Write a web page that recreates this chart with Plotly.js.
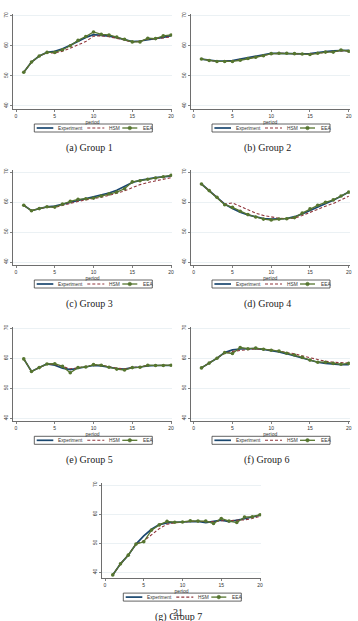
<!DOCTYPE html>
<html>
<head>
<meta charset="utf-8">
<script src="https://cdn.plot.ly/plotly-3.0.1.min.js"></script>
<style>
  html, body { margin: 0; padding: 0; background: #ffffff; }
  #chart { width: 358px; height: 621px; }
</style>
</head>
<body>
<div id="chart"></div>
<script>
// Average price by period for each experimental group, with the two model fits.
const period = [1, 2, 3, 4, 5, 6, 7, 8, 9, 10, 11, 12, 13, 14, 15, 16, 17, 18, 19, 20];

const g1Experiment = [51.2, 54.6, 56.6, 57.8, 58.2, 59.0, 60.2, 61.5, 62.8, 63.7, 63.5, 63.2, 62.7, 62.0, 61.4, 61.6, 62.0, 62.3, 62.8, 63.4];
const g1HSM        = [51.2, 54.6, 56.6, 57.7, 57.6, 58.2, 59.2, 60.3, 61.4, 63.2, 63.3, 63.0, 62.5, 61.9, 61.2, 61.5, 62.2, 62.3, 62.6, 63.0];
const g1EEA        = [51.2, 54.6, 56.6, 57.8, 57.8, 58.7, 60.0, 61.8, 63.1, 64.6, 63.8, 63.6, 62.9, 62.2, 61.3, 61.3, 62.5, 62.4, 63.3, 63.6];

const g2Experiment = [55.6, 55.2, 54.9, 54.9, 55.1, 55.6, 56.1, 56.6, 57.1, 57.5, 57.5, 57.4, 57.4, 57.3, 57.4, 57.8, 58.1, 58.3, 58.5, 58.5];
const g2HSM        = [55.6, 55.1, 54.8, 54.8, 54.9, 55.3, 55.8, 56.3, 56.8, 57.3, 57.5, 57.5, 57.4, 57.2, 57.2, 57.5, 57.8, 58.0, 58.3, 58.3];
const g2EEA        = [55.6, 55.1, 54.8, 54.8, 54.8, 55.2, 55.8, 56.2, 56.7, 57.4, 57.5, 57.5, 57.4, 57.3, 57.1, 57.5, 57.9, 57.9, 58.6, 58.2];

const g3Experiment = [58.9, 57.1, 57.8, 58.4, 58.6, 59.2, 59.8, 60.4, 61.0, 61.6, 62.2, 63.0, 63.9, 65.2, 66.5, 67.2, 67.7, 68.1, 68.4, 68.7];
const g3HSM        = [58.9, 57.1, 57.8, 58.3, 58.2, 58.9, 59.6, 60.2, 60.7, 61.1, 61.6, 62.2, 62.9, 63.7, 64.8, 65.8, 66.5, 67.0, 67.5, 68.1];
const g3EEA        = [58.9, 57.1, 57.8, 58.4, 58.3, 59.3, 60.2, 60.9, 61.1, 61.3, 62.0, 62.7, 63.3, 64.4, 66.7, 67.1, 67.6, 68.0, 68.4, 68.9];

const g4Experiment = [66.0, 63.8, 61.6, 59.3, 57.8, 56.6, 55.7, 55.0, 54.5, 54.3, 54.3, 54.5, 55.1, 56.0, 57.2, 58.3, 59.4, 60.6, 61.9, 63.3];
const g4HSM        = [66.0, 63.8, 61.6, 59.3, 59.7, 58.6, 57.3, 56.3, 55.5, 55.0, 54.6, 54.4, 54.6, 55.5, 56.6, 57.6, 58.6, 59.5, 60.6, 61.9];
const g4EEA        = [66.0, 63.8, 61.6, 59.1, 58.2, 56.9, 55.8, 55.0, 54.3, 54.0, 54.3, 54.4, 54.8, 56.3, 57.7, 58.9, 59.9, 60.7, 62.0, 63.3];

const g5Experiment = [59.8, 55.6, 56.9, 58.1, 57.7, 56.7, 56.2, 56.7, 57.2, 57.6, 57.5, 57.0, 56.6, 56.4, 56.9, 57.1, 57.5, 57.6, 57.6, 57.6];
const g5HSM        = [59.8, 55.6, 56.9, 58.1, 58.0, 57.2, 56.5, 56.8, 57.3, 57.8, 57.7, 57.2, 56.7, 56.5, 56.9, 57.1, 57.6, 57.6, 57.6, 57.7];
const g5EEA        = [59.8, 55.6, 56.9, 58.1, 58.2, 57.3, 55.2, 56.9, 57.1, 57.9, 57.7, 57.0, 56.4, 56.1, 56.9, 57.0, 57.7, 57.6, 57.6, 57.7];

const g6Experiment = [56.8, 58.4, 60.0, 61.9, 62.8, 63.1, 63.2, 63.2, 63.0, 62.6, 62.1, 61.5, 60.8, 60.0, 59.3, 58.7, 58.3, 58.0, 57.9, 57.9];
const g6HSM        = [56.8, 58.4, 60.0, 61.7, 62.3, 62.7, 62.9, 63.1, 63.0, 62.8, 62.4, 62.0, 61.5, 60.8, 60.2, 59.5, 59.0, 58.7, 58.5, 58.4];
const g6EEA        = [56.8, 58.4, 60.0, 61.9, 61.6, 63.6, 63.2, 63.4, 63.0, 62.7, 62.4, 61.7, 61.1, 60.3, 59.4, 58.7, 58.7, 58.3, 58.0, 58.3];

const g7Experiment = [39.1, 42.9, 45.9, 49.7, 52.5, 54.8, 56.4, 57.0, 57.2, 57.3, 57.5, 57.5, 57.1, 57.5, 57.9, 57.4, 57.8, 58.4, 59.0, 59.6];
const g7HSM        = [39.1, 42.9, 45.9, 49.7, 50.8, 52.9, 55.0, 56.5, 57.0, 57.2, 57.5, 57.5, 57.5, 57.4, 57.7, 57.8, 57.7, 58.0, 58.5, 59.2];
const g7EEA        = [39.1, 42.9, 45.9, 49.7, 50.5, 54.5, 56.3, 57.5, 57.2, 57.3, 57.7, 57.6, 57.6, 56.8, 58.5, 57.6, 57.1, 59.0, 59.1, 59.8];

const seriesNames = ['Experiment', 'HSM', 'EEA'];
const captions = ['(a) Group 1', '(b) Group 2', '(c) Group 3', '(d) Group 4', '(e) Group 5', '(f) Group 6', '(g) Group 7'];
const xTicks = [0, 5, 10, 15, 20];
const yTicks = [40, 50, 60, 70];
const xTitle = 'period';
const pageNumber = '31';

// Page geometry (pixels) for each panel
const W = 358, H = 621;
const panels = [
  { data: [g1Experiment, g1HSM, g1EEA], l: 12.9,  r: 172.2, t: 13.9,  b: 109.0, ymin: 39, capX: 89 },
  { data: [g2Experiment, g2HSM, g2EEA], l: 190.6, r: 349.9, t: 13.9,  b: 109.0, ymin: 39, capX: 267 },
  { data: [g3Experiment, g3HSM, g3EEA], l: 12.9,  r: 172.2, t: 170.2, b: 265.0, ymin: 39, capX: 89 },
  { data: [g4Experiment, g4HSM, g4EEA], l: 190.6, r: 349.9, t: 170.2, b: 265.0, ymin: 39, capX: 267 },
  { data: [g5Experiment, g5HSM, g5EEA], l: 12.9,  r: 172.2, t: 326.5, b: 421.3, ymin: 39, capX: 89 },
  { data: [g6Experiment, g6HSM, g6EEA], l: 190.6, r: 349.9, t: 326.5, b: 421.3, ymin: 39, capX: 267 },
  { data: [g7Experiment, g7HSM, g7EEA], l: 101.9, r: 261.2, t: 483.3, b: 578.1, ymin: 38, capX: 178 }
];

const colors = ['#1a476f', '#90353b', '#55752f'];
const axisColor = '#4a4a4a';
const tickFont = { family: 'Liberation Sans, Arial, sans-serif', size: 5, color: '#333333' };
const serif = 'Liberation Serif, DejaVu Serif, serif';

const px = x => x / W;
const py = y => 1 - y / H;

const traces = [];
const layout = {
  width: W, height: H,
  margin: { l: 0, r: 0, t: 0, b: 0 },
  paper_bgcolor: '#ffffff',
  plot_bgcolor: '#ffffff',
  showlegend: false,
  shapes: [],
  annotations: []
};

panels.forEach((p, i) => {
  const sfx = i === 0 ? '' : String(i + 1);
  const xa = 'x' + sfx, ya = 'y' + sfx;

  // Experiment, HSM, EEA
  traces.push({
    x: period, y: p.data[0], xaxis: xa, yaxis: ya, name: seriesNames[0],
    type: 'scatter', mode: 'lines',
    line: { color: colors[0], width: 1.7 }
  });
  traces.push({
    x: period, y: p.data[1], xaxis: xa, yaxis: ya, name: seriesNames[1],
    type: 'scatter', mode: 'lines',
    line: { color: colors[1], width: 1.1, dash: '3px,2px' }
  });
  traces.push({
    x: period, y: p.data[2], xaxis: xa, yaxis: ya, name: seriesNames[2],
    type: 'scatter', mode: 'lines+markers',
    line: { color: colors[2], width: 1.3 },
    marker: { color: colors[2], size: 3.6, symbol: 'circle' }
  });

  layout['xaxis' + sfx] = {
    domain: [px(p.l), px(p.r)],
    anchor: ya,
    range: [-0.4, 20.15],
    tickvals: xTicks,
    ticktext: xTicks.map(String),
    ticks: 'outside', ticklen: 2, tickwidth: 0.7, tickcolor: axisColor,
    showline: true, linecolor: axisColor, linewidth: 0.8,
    showgrid: false, zeroline: false,
    tickfont: tickFont,
    title: { text: xTitle, font: tickFont, standoff: 0 },
    fixedrange: true
  };
  layout['yaxis' + sfx] = {
    domain: [py(p.b), py(p.t)],
    anchor: xa,
    range: [p.ymin, 70.6],
    tickvals: yTicks,
    ticktext: yTicks.map(String),
    tickangle: -90,
    ticks: 'outside', ticklen: 2, tickwidth: 0.7, tickcolor: axisColor,
    showline: true, linecolor: axisColor, linewidth: 0.8,
    showgrid: true, gridcolor: '#e6edf1', gridwidth: 0.8,
    zeroline: false,
    tickfont: tickFont,
    fixedrange: true
  };

  // Legend box below the panel
  const lx = p.l + 21.4, ly = p.b + 15, lw = 118, lh = 8;
  const midY = py(ly + lh / 2);
  layout.shapes.push({
    type: 'rect', xref: 'paper', yref: 'paper',
    x0: px(lx), x1: px(lx + lw), y0: py(ly + lh), y1: py(ly),
    line: { color: '#3c3c3c', width: 0.8 }, fillcolor: '#ffffff', layer: 'above'
  });
  const keys = [
    { x0: 2.4, x1: 19, tx: 22, dash: 'solid', w: 1.7 },
    { x0: 53, x1: 70, tx: 73, dash: '3px,2px', w: 1.1 },
    { x0: 88, x1: 103, tx: 107, dash: 'solid', w: 1.3 }
  ];
  keys.forEach((k, j) => {
    layout.shapes.push({
      type: 'line', xref: 'paper', yref: 'paper',
      x0: px(lx + k.x0), x1: px(lx + k.x1), y0: midY, y1: midY,
      line: { color: colors[j], width: k.w, dash: k.dash }, layer: 'above'
    });
    layout.annotations.push({
      xref: 'paper', yref: 'paper', x: px(lx + k.tx), y: midY,
      xanchor: 'left', yanchor: 'middle', showarrow: false,
      text: seriesNames[j], font: { family: tickFont.family, size: 4.8, color: '#333333' }
    });
  });
  const mx = lx + 95.5, r = 1.8;
  layout.shapes.push({
    type: 'circle', xref: 'paper', yref: 'paper',
    x0: px(mx - r), x1: px(mx + r), y0: py(ly + lh / 2 + r), y1: py(ly + lh / 2 - r),
    line: { color: colors[2], width: 0.5 }, fillcolor: colors[2], layer: 'above'
  });

  // Caption
  layout.annotations.push({
    xref: 'paper', yref: 'paper', x: px(p.capX), y: py(p.b + 39),
    xanchor: 'center', yanchor: 'middle', showarrow: false,
    text: captions[i], font: { family: serif, size: 10, color: '#222222' }
  });
});

// Page number of the document, printed across the last caption
layout.annotations.push({
  xref: 'paper', yref: 'paper', x: px(178), y: py(612),
  xanchor: 'center', yanchor: 'middle', showarrow: false,
  text: pageNumber, font: { family: serif, size: 10, color: '#222222' }
});

Plotly.newPlot('chart', traces, layout, { staticPlot: true, displayModeBar: false });
</script>
</body>
</html>
